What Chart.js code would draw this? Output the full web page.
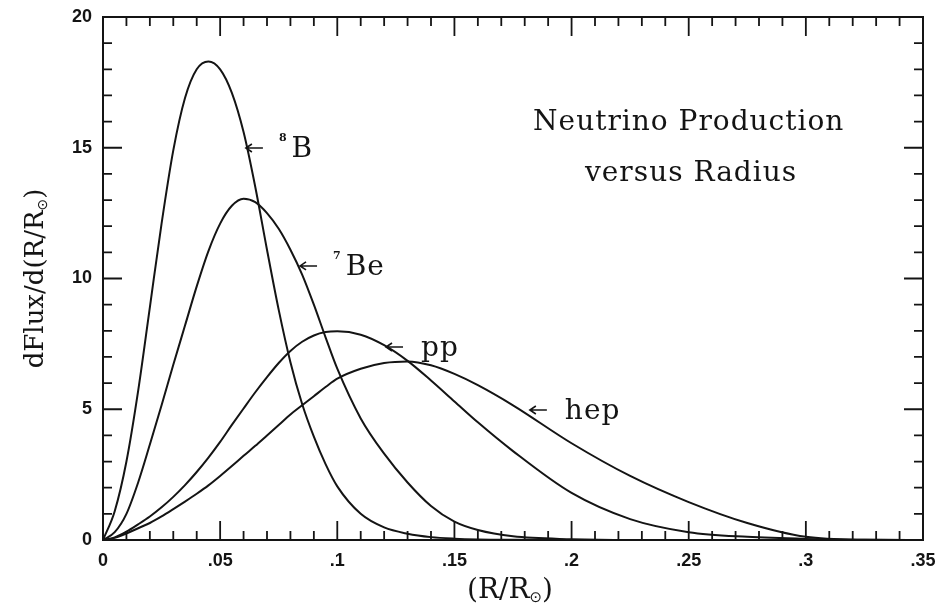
<!DOCTYPE html>
<html lang="en">
<head>
<meta charset="UTF-8">
<title>Neutrino Production versus Radius</title>
<script src="https://cdn.jsdelivr.net/npm/chart.js"></script>
<style>
    html, body { margin: 0; padding: 0; background: #fff; }
    #wrap { width: 942px; height: 610px; }
</style>
</head>
<body>
<div id="wrap"><canvas id="fluxChart" width="942" height="610"></canvas></div>
<script>
// radius grid (R/Rsun) shared by every curve
const radius = [0, 0.005, 0.01, 0.015, 0.02, 0.025, 0.03, 0.035, 0.04, 0.045,
                0.05, 0.055, 0.06, 0.065, 0.07, 0.075, 0.08, 0.085, 0.09, 0.095,
                0.1, 0.11, 0.12, 0.13, 0.14, 0.15, 0.16, 0.175, 0.2, 0.225,
                0.25, 0.275, 0.3, 0.325, 0.35];

// dFlux/d(R/Rsun)
const boron8 = [0, 1.1, 3.0, 5.7, 8.9, 12.1, 14.9, 16.9, 18.0, 18.3,
                18.0, 17.1, 15.6, 13.5, 11.1, 8.8, 6.8, 5.2, 3.95, 2.9,
                2.05, 1.0, 0.48, 0.24, 0.11, 0.05, 0.02, 0.005, 0, 0,
                0, 0, 0, 0, 0];
const beryllium7 = [0, 0.3, 1.0, 2.2, 3.65, 5.15, 6.7, 8.2, 9.7, 11.05,
                    12.1, 12.78, 13.05, 12.92, 12.5, 11.9, 11.1, 10.15, 9.0, 7.75,
                    6.55, 4.65, 3.3, 2.2, 1.3, 0.7, 0.38, 0.14, 0.03, 0,
                    0, 0, 0, 0, 0];
const protonProton = [0, 0.1, 0.32, 0.6, 0.9, 1.25, 1.65, 2.1, 2.6, 3.15,
                      3.75, 4.4, 5.03, 5.65, 6.23, 6.77, 7.23, 7.58, 7.82, 7.95,
                      7.98, 7.85, 7.45, 6.85, 6.1, 5.3, 4.5, 3.4, 1.8, 0.8,
                      0.3, 0.12, 0.04, 0.01, 0];
const hepFlux = [0, 0.08, 0.25, 0.45, 0.65, 0.9, 1.18, 1.47, 1.77, 2.09,
                 2.45, 2.83, 3.22, 3.6, 4.0, 4.4, 4.8, 5.15, 5.5, 5.85,
                 6.17, 6.55, 6.77, 6.83, 6.68, 6.35, 5.92, 5.15, 3.7, 2.45,
                 1.45, 0.65, 0.12, 0.01, 0];

// axis ticks
const xTickValues = [0, 0.05, 0.1, 0.15, 0.2, 0.25, 0.3, 0.35];
const xTickLabels = ['0', '.05', '.1', '.15', '.2', '.25', '.3', '.35'];
const yTickValues = [0, 5, 10, 15, 20];
const yTickLabels = ['0', '5', '10', '15', '20'];

// curve labels (arrow tip sits on the curve, in data units)
const curveNotes = [
    { sup: '8', text: 'B',   x: 0.061,  y: 14.99 },
    { sup: '7', text: 'Be',  x: 0.0841, y: 10.48 },
    { sup: '',  text: 'pp',  x: 0.1208, y: 7.38 },
    { sup: '',  text: 'hep', x: 0.1822, y: 4.97 }
];
const titleLines = [
    { text: 'Neutrino Production', x: 0.25, y: 15.68 },
    { text: 'versus Radius',       x: 0.251, y: 13.73 }
];

const INK = '#141414';
const SERIF = '"DejaVu Serif", serif';

function series(ys) {
    return radius.map((r, i) => ({ x: r, y: ys[i] }));
}

// frame, inward ticks on all four sides, axis titles and notes
const decorations = {
    id: 'decorations',
    afterDraw(chart) {
        const ctx = chart.ctx;
        const a = chart.chartArea;
        const xs = chart.scales.x;
        const ys = chart.scales.y;
        ctx.save();
        ctx.strokeStyle = INK;
        ctx.lineWidth = 2;
        ctx.strokeRect(a.left, a.top, a.right - a.left, a.bottom - a.top);

        ctx.lineWidth = 1.8;
        ctx.beginPath();
        for (let i = 0; i <= 35; i++) {
            const px = xs.getPixelForValue(i / 100);
            const len = i % 5 === 0 ? 19 : 9;
            ctx.moveTo(px, a.bottom); ctx.lineTo(px, a.bottom - len);
            ctx.moveTo(px, a.top);    ctx.lineTo(px, a.top + len);
        }
        for (let i = 0; i <= 20; i++) {
            const py = ys.getPixelForValue(i);
            const len = i % 5 === 0 ? 19 : 9;
            ctx.moveTo(a.left, py);  ctx.lineTo(a.left + len, py);
            ctx.moveTo(a.right, py); ctx.lineTo(a.right - len, py);
        }
        ctx.stroke();

        ctx.fillStyle = INK;
        ctx.textBaseline = 'alphabetic';

        // y title: dFlux/d(R/R⊙)
        ctx.save();
        ctx.translate(43, (a.top + a.bottom) / 2);
        ctx.rotate(-Math.PI / 2);
        drawSunLabel(ctx, 'dFlux/d(R/R', ')', 26);
        ctx.restore();

        // x title: (R/R⊙)
        ctx.save();
        ctx.translate((a.left + a.right) / 2 - 3, 598);
        drawSunLabel(ctx, '(R/R', ')', 28);
        ctx.restore();

        // title in the plot
        ctx.font = '28px ' + SERIF;
        ctx.letterSpacing = '1px';
        ctx.textAlign = 'center';
        titleLines.forEach(t => {
            ctx.fillText(t.text, xs.getPixelForValue(t.x), ys.getPixelForValue(t.y));
        });

        // arrows and curve names
        ctx.textAlign = 'left';
        curveNotes.forEach(n => {
            const px = xs.getPixelForValue(n.x);
            const py = ys.getPixelForValue(n.y);
            ctx.lineWidth = 1.6;
            ctx.beginPath();
            ctx.moveTo(px + 17, py);
            ctx.lineTo(px, py);
            ctx.moveTo(px + 6, py - 4);
            ctx.lineTo(px, py);
            ctx.lineTo(px + 6, py + 4);
            ctx.stroke();
            let cx = px + 17 + 18;
            if (n.sup) {
                ctx.letterSpacing = '0px';
                ctx.font = 'bold 11px ' + SERIF;
                ctx.fillText(n.sup, cx - 2, py - 7);
                cx += ctx.measureText(n.sup).width + 3;
            }
            ctx.font = '28px ' + SERIF;
            ctx.letterSpacing = '1px';
            ctx.fillText(n.text, cx, py + 9);
        });
        ctx.restore();
    }
};

// text with a small ⊙ subscript, centred on the current origin
function drawSunLabel(ctx, head, tail, size) {
    const big = size + 'px ' + SERIF;
    const small = Math.round(size * 0.55) + 'px "DejaVu Sans"';
    ctx.font = big;
    const w1 = ctx.measureText(head).width;
    const w3 = ctx.measureText(tail).width;
    ctx.font = small;
    const w2 = ctx.measureText('\u2299').width;
    let x = -(w1 + w2 + w3) / 2;
    ctx.textAlign = 'left';
    ctx.font = big;
    ctx.fillText(head, x, 0);
    x += w1;
    ctx.font = small;
    ctx.fillText('\u2299', x, size * 0.15);
    x += w2;
    ctx.font = big;
    ctx.fillText(tail, x, 0);
}

const lineStyle = {
    borderColor: INK,
    borderWidth: 2,
    pointRadius: 0,
    fill: false,
    cubicInterpolationMode: 'monotone'
};

new Chart(document.getElementById('fluxChart'), {
    type: 'line',
    data: {
        datasets: [
            Object.assign({ label: '8B', data: series(boron8) }, lineStyle),
            Object.assign({ label: '7Be', data: series(beryllium7) }, lineStyle),
            Object.assign({ label: 'pp', data: series(protonProton) }, lineStyle),
            Object.assign({ label: 'hep', data: series(hepFlux) }, lineStyle)
        ]
    },
    options: {
        responsive: false,
        animation: false,
        layout: { padding: { top: 17, right: 19, left: 0, bottom: 0 } },
        plugins: {
            legend: { display: false },
            tooltip: { enabled: false }
        },
        scales: {
            x: {
                type: 'linear',
                min: 0,
                max: 0.35,
                afterBuildTicks: s => { s.ticks = xTickValues.map(v => ({ value: v })); },
                afterFit: s => { s.height = 70; s.paddingLeft = 0; s.paddingRight = 0; },
                ticks: {
                    callback: (v, i) => xTickLabels[i],
                    autoSkip: false,
                    maxRotation: 0,
                    padding: 10,
                    color: INK,
                    font: { family: '"Liberation Sans", Arial, sans-serif', size: 18, weight: 'bold' }
                },
                grid: { display: false, drawTicks: false },
                border: { display: false }
            },
            y: {
                type: 'linear',
                min: 0,
                max: 20,
                afterBuildTicks: s => { s.ticks = yTickValues.map(v => ({ value: v })); },
                afterFit: s => { s.width = 103; s.paddingTop = 0; s.paddingBottom = 0; },
                ticks: {
                    callback: (v, i) => yTickLabels[i],
                    padding: 11,
                    color: INK,
                    font: { family: '"Liberation Sans", Arial, sans-serif', size: 18, weight: 'bold' }
                },
                grid: { display: false, drawTicks: false },
                border: { display: false }
            }
        }
    },
    plugins: [decorations]
});
</script>
</body>
</html>
